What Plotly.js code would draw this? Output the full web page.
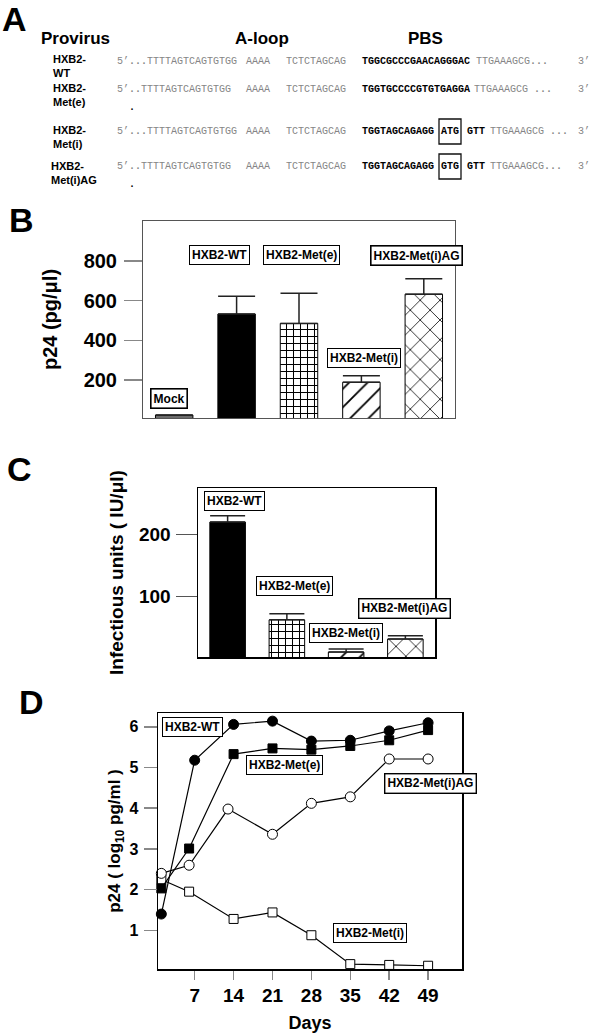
<!DOCTYPE html>
<html><head><meta charset="utf-8">
<script src="https://cdn.plot.ly/plotly-3.0.1.min.js"></script>
<style>html,body{margin:0;padding:0;background:#fff}#chart{width:600px;height:1033px}</style>
</head><body><div id="chart"></div>
<script>
const W = 600, H = 1033;
const SANS = 'Liberation Sans, Arial, Helvetica, sans-serif';
const MONO = 'Liberation Mono, DejaVu Sans Mono, monospace';

// ---------- Panel A (sequences) ----------
const rowNames = ['HXB2-<br>WT', 'HXB2-<br>Met(e)', 'HXB2-<br>Met(i)', 'HXB2-<br>Met(i)AG'];
const upstreamSeq = 'TTTTAGTCAGTGTGG';
const aLoopSeq = 'AAAA';
const preBindSeq = 'TCTCTAGCAG';
const pbsSeqs = ['TGGCGCCCGAACAGGGAC', 'TGGTGCCCCGTGTGAGGA', 'TGGTAGCAGAGG', 'TGGTAGCAGAGG'];
const boxedCodons = [null, null, 'ATG', 'GTG'];
const pbsTails = [null, null, 'GTT', 'GTT'];
const downstreamSeq = 'TTGAAAGCG';

// ---------- Panel B (p24, pg/ul) ----------
const groupsB = ['Mock', 'HXB2-WT', 'HXB2-Met(e)', 'HXB2-Met(i)', 'HXB2-Met(i)AG'];
const p24B = [24, 532, 485, 189, 632];
const p24ErrB = [null, 90, 151, 33, 78];
const ticksB = [200, 400, 600, 800];

// ---------- Panel C (infectious units, IU/ul) ----------
const groupsC = ['HXB2-WT', 'HXB2-Met(e)', 'HXB2-Met(i)', 'HXB2-Met(i)AG'];
const iuC = [220, 62, 10, 31];
const iuErrC = [10, 10, 5, 5.5];
const ticksC = [100, 200];

// ---------- Panel D (p24 log10 pg/ml over days) ----------
const daysWT = [1, 7, 14, 21, 28, 35, 42, 49];
const wtD = [1.40, 5.18, 6.06, 6.14, 5.65, 5.67, 5.90, 6.10];
const daysMetE = [1, 6, 14, 21, 28, 35, 42, 49];
const metED = [2.03, 3.01, 5.33, 5.47, 5.44, 5.53, 5.67, 5.92];
const daysMetIAG = [1, 6, 13, 21, 28, 35, 42, 49];
const metIAGD = [2.40, 2.60, 3.98, 3.36, 4.12, 4.28, 5.21, 5.21];
const daysMetI = [1, 6, 14, 21, 28, 35, 42, 49];
const metID = [2.25, 1.95, 1.28, 1.44, 0.88, 0.17, 0.15, 0.13];
const dayTicks = [7, 14, 21, 28, 35, 42, 49];
const ticksD = [1, 2, 3, 4, 5, 6];

// ---------- helpers ----------
const PX = x => x / W, PY = y => 1 - y / H;
function ann(text, x, y, o) {
  const a = {xref: 'paper', yref: 'paper', x: PX(x), y: PY(y), text: text, showarrow: false,
    xanchor: 'center', yanchor: 'middle',
    font: {family: SANS, size: 12, color: '#000', weight: 'bold'}};
  return Object.assign(a, o || {});
}
function boxLabel(text, x, y, bw) {
  return ann(text, x, y, {bgcolor: '#fff', bordercolor: '#000', borderwidth: bw || 1, borderpad: 2});
}
const boldF = s => ({family: SANS, size: s, color: '#000', weight: 'bold'});

const annotations = [];
const shapes = [];

// Panel letters
[['A', 14.5, 19], ['B', 21, 220], ['C', 19, 469], ['D', 31, 702]].forEach(p =>
  annotations.push(ann(p[0], p[1], p[2], {font: boldF(34)})));

// Panel A headers
annotations.push(ann('Provirus', 75, 39, {font: boldF(17)}));
annotations.push(ann('A-loop', 261.5, 39, {font: boldF(17)}));
annotations.push(ann('PBS', 425, 39, {font: boldF(17)}));

const rowY = [61, 89.5, 131.5, 166.5];
const nameY = [66, 95, 137, 173];
const nameX = [51, 51, 51, 49];
const grey = '#858585';
const SEQ = 10;
const seqF = (c, w) => ({family: MONO, size: SEQ, color: c, weight: w || 'normal'});
rowNames.forEach((name, r) => {
  annotations.push(ann(name, nameX[r], nameY[r], {xanchor: 'left', align: 'left', font: boldF(11)}));
  const y = rowY[r];
  const lead = (r % 2 === 0) ? '5’<b>...</b>' : '5’<b>..</b>';
  annotations.push(ann(lead + upstreamSeq, 115, y, {xanchor: 'left', font: seqF(grey)}));
  if (r % 2 === 1) annotations.push(ann('<b>.</b>', 132, y + 18, {font: seqF('#000')}));
  annotations.push(ann(aLoopSeq, 244, y, {xanchor: 'left', font: seqF(grey)}));
  annotations.push(ann(preBindSeq, 283.5, y, {xanchor: 'left', font: seqF(grey)}));
  annotations.push(ann(pbsSeqs[r], 360, y, {xanchor: 'left', font: seqF('#000', 'bold')}));
  let dx;
  if (boxedCodons[r]) {
    annotations.push(ann(boxedCodons[r], 450, y, {font: seqF('#000', 'bold')}));
    shapes.push({type: 'rect', xref: 'paper', yref: 'paper', x0: PX(439), x1: PX(461),
      y0: PY(y + 12.5), y1: PY(y - 12.5), line: {color: '#111', width: 1.3}});
    annotations.push(ann(pbsTails[r], 465, y, {xanchor: 'left', font: seqF('#000', 'bold')}));
    dx = 488;
  } else {
    dx = r === 0 ? 474 : 472;
  }
  const tail = (r === 0 || r === 3) ? downstreamSeq + '<b>...</b>' : downstreamSeq + ' <b>...</b>';
  annotations.push(ann(tail, dx, y, {xanchor: 'left', font: seqF(grey)}));
  annotations.push(ann('3’', 592, y, {xanchor: 'right', font: seqF(grey)}));
});

// Panel B labels
annotations.push(boxLabel('Mock', 168.5, 398.5, 1.6));
annotations.push(boxLabel('HXB2-WT', 219.5, 255));
annotations.push(boxLabel('HXB2-Met(e)', 301.5, 255));
annotations.push(boxLabel('HXB2-Met(i)AG', 416.5, 255.5, 1.6));
annotations.push(boxLabel('HXB2-Met(i)', 363.5, 357.5));
// Panel C labels
annotations.push(boxLabel('HXB2-WT', 234.5, 501));
annotations.push(boxLabel('HXB2-Met(e)', 294.5, 585.5));
annotations.push(boxLabel('HXB2-Met(i)AG', 404, 608.5, 1.4));
annotations.push(boxLabel('HXB2-Met(i)', 346, 632.5));
// Panel D labels
annotations.push(boxLabel('HXB2-WT', 192, 726.5));
annotations.push(boxLabel('HXB2-Met(e)', 284.5, 765));
annotations.push(boxLabel('HXB2-Met(i)AG', 430.5, 783, 1.4));
annotations.push(boxLabel('HXB2-Met(i)', 369.5, 932.5));

// ---------- traces ----------
const traces = [];
traces.push({
  type: 'bar', x: groupsB, y: p24B, xaxis: 'x', yaxis: 'y', width: 0.6,
  marker: {
    color: '#ffffff',
    line: {color: '#000', width: 1},
    pattern: {shape: ['/', '/', '+', '/', 'x'],
      fgcolor: ['#6b6b6b', '#000', '#000', '#000', '#000'],
      bgcolor: ['#6b6b6b', '#000', '#fff', '#fff', '#fff'],
      size: [8, 8, 7, 13, 14], solidity: [0.5, 0.5, 0.27, 0.14, 0.11], fillmode: 'replace'}
  },
  error_y: {type: 'data', symmetric: false, array: p24ErrB, arrayminus: [0, 0, 0, 0, 0],
    color: '#222', thickness: 1.5, width: 18.5},
  hoverinfo: 'skip'
});
traces.push({
  type: 'bar', x: groupsC, y: iuC, xaxis: 'x2', yaxis: 'y2', width: 0.6,
  marker: {
    color: '#ffffff',
    line: {color: '#000', width: 1},
    pattern: {shape: ['/', '+', '/', 'x'],
      fgcolor: ['#000', '#000', '#000', '#000'],
      bgcolor: ['#000', '#fff', '#fff', '#fff'],
      size: [8, 7, 13, 14], solidity: [0.5, 0.27, 0.14, 0.11], fillmode: 'replace'}
  },
  error_y: {type: 'data', symmetric: false, array: iuErrC, arrayminus: [0, 0, 0, 0],
    color: '#222', thickness: 1.5, width: 17.5},
  hoverinfo: 'skip'
});
const lineStyle = {color: '#000', width: 1.2};
traces.push({type: 'scatter', mode: 'lines+markers', name: 'HXB2-Met(i)', x: daysMetI, y: metID,
  xaxis: 'x3', yaxis: 'y3', line: lineStyle, cliponaxis: false,
  marker: {symbol: 'square', size: 9, color: '#fff', line: {color: '#000', width: 1}}});
traces.push({type: 'scatter', mode: 'lines+markers', name: 'HXB2-Met(i)AG', x: daysMetIAG, y: metIAGD,
  xaxis: 'x3', yaxis: 'y3', line: lineStyle, cliponaxis: false,
  marker: {symbol: 'circle', size: 10, color: '#fff', line: {color: '#000', width: 1}}});
traces.push({type: 'scatter', mode: 'lines+markers', name: 'HXB2-Met(e)', x: daysMetE, y: metED,
  xaxis: 'x3', yaxis: 'y3', line: lineStyle, cliponaxis: false,
  marker: {symbol: 'square', size: 9, color: '#000', line: {color: '#000', width: 1}}});
traces.push({type: 'scatter', mode: 'lines+markers', name: 'HXB2-WT', x: daysWT, y: wtD,
  xaxis: 'x3', yaxis: 'y3', line: lineStyle, cliponaxis: false,
  marker: {symbol: 'circle', size: 10, color: '#000', line: {color: '#000', width: 1}}});

// ---------- layout ----------
const baseAxis = {showgrid: false, zeroline: false, showline: true, mirror: true, fixedrange: true};
const layout = {
  width: W, height: H, margin: {l: 0, r: 0, t: 0, b: 0},
  paper_bgcolor: '#fff', plot_bgcolor: '#fff', showlegend: false,
  font: {family: SANS, color: '#000'},
  xaxis: Object.assign({}, baseAxis, {domain: [PX(143), PX(455)], anchor: 'y', type: 'category',
    range: [-0.5, 4.5], showticklabels: false, ticks: '', linecolor: '#555', linewidth: 1}),
  yaxis: Object.assign({}, baseAxis, {domain: [PY(418), PY(221)], anchor: 'x', range: [9, 1000],
    tickvals: ticksB, ticks: 'outside', ticklen: 18, tickwidth: 1.5, tickcolor: '#888',
    tickfont: boldF(20), ticklabelstandoff: 3, linecolor: '#555', linewidth: 1,
    title: {text: 'p24 (pg/μl)', font: boldF(20), standoff: 20}}),
  xaxis2: Object.assign({}, baseAxis, {domain: [PX(198), PX(435)], anchor: 'y2', type: 'category',
    range: [-0.5, 3.5], showticklabels: false, ticks: '', linecolor: '#000', linewidth: 1.5}),
  yaxis2: Object.assign({}, baseAxis, {domain: [PY(657), PY(488)], anchor: 'x2', range: [2, 275],
    tickvals: ticksC, ticks: 'outside', ticklen: 21, tickwidth: 1.5, tickcolor: '#555',
    tickfont: boldF(19), ticklabelstandoff: 1, linecolor: '#000', linewidth: 1.5,
    title: {text: 'Infectious units ( IU/μl)', font: boldF(19), standoff: 10}}),
  xaxis3: Object.assign({}, baseAxis, {domain: [PX(158), PX(462)], anchor: 'y3', range: [0.4, 55.1],
    tickvals: dayTicks, ticks: 'outside', ticklen: 9, tickwidth: 1.5, tickcolor: '#888',
    tickfont: boldF(19), linecolor: '#000', linewidth: 1.5,
    title: {text: 'Days', font: boldF(18), standoff: 12}}),
  yaxis3: Object.assign({}, baseAxis, {domain: [PY(969), PY(713)], anchor: 'x3', range: [0.05, 6.34],
    tickvals: ticksD, ticks: 'outside', ticklen: 13, tickwidth: 1.5, tickcolor: '#888',
    tickfont: boldF(16), ticklabelstandoff: 2, linecolor: '#000', linewidth: 1.5,
    title: {text: 'p24 ( log<sub>10</sub> pg/ml )', font: boldF(17), standoff: 4}}),
  annotations: annotations,
  shapes: shapes
};

Plotly.newPlot('chart', traces, layout, {displayModeBar: false, staticPlot: true});
</script>
</body></html>
